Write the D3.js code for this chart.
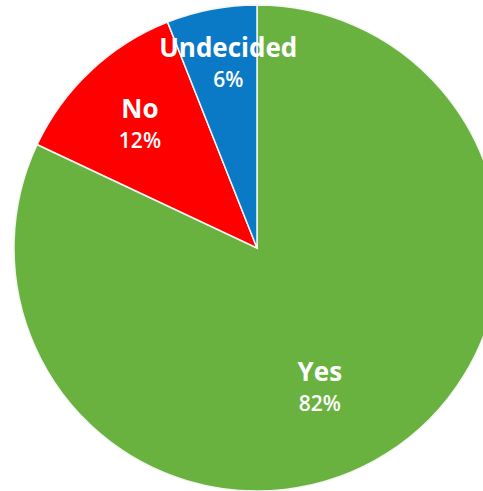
<!DOCTYPE html>
<html lang="en">
<head>
  <meta charset="utf-8">
  <title>Yes / No / Undecided</title>
  <script src="https://d3js.org/d3.v7.min.js"></script>
  <style>
  body { margin: 0; background: #fff; }
  text { font-family: "Open Sans", "DejaVu Sans", sans-serif; fill: #fff; }
  </style>
</head>
<body>
<div id="chart"></div>
<script>
// data, in draw order (clockwise from 12 o'clock)
var answers = ["Yes", "No", "Undecided"];
var shares = [82, 12, 6];
var colors = ["#6ab23f", "#fe0000", "#0b7ac6"];

// where the labels sit: distance from centre and nudge off the slice middle (degrees)
var labelRadius = [152, 171, 188];
var labelNudge = [8, 0, 2];

var width = 483, height = 491;
var cx = 257, cy = 248, radius = 243;

var svg = d3.select("#chart")
  .append("svg")
    .attr("width", width)
    .attr("height", height)
  .append("g")
    .attr("transform", "translate(" + cx + "," + cy + ")");

var data = answers.map(function(a, i) { return {name: a, value: shares[i], color: colors[i], i: i}; });

var pie = d3.pie()
  .sort(null)
  .value(function(d) { return d.value; });

var arc = d3.arc()
  .innerRadius(0)
  .outerRadius(radius);

var arcs = pie(data);

svg.selectAll("path")
  .data(arcs)
  .enter()
  .append("path")
    .attr("d", arc)
    .attr("fill", function(d) { return d.data.color; })
    .attr("stroke", "#f4f4f4")
    .attr("stroke-width", 1.5);

// labels
var labels = svg.selectAll("g.lbl")
  .data(arcs)
  .enter()
  .append("g")
    .attr("class", "lbl")
    .attr("transform", function(d) {
      var a = (d.startAngle + d.endAngle) / 2 + labelNudge[d.data.i] * Math.PI / 180;
      var r = labelRadius[d.data.i];
      return "translate(" + (r * Math.sin(a)) + "," + (-r * Math.cos(a)) + ")";
    });

labels.append("text")
  .attr("text-anchor", "middle")
  .attr("y", -5)
  .style("font-size", "26px")
  .style("font-weight", 700)
  .text(function(d) { return d.data.name; });

labels.append("text")
  .attr("text-anchor", "middle")
  .attr("y", 25)
  .style("font-size", "21px")
  .style("font-weight", 600)
  .text(function(d) { return d.data.value + "%"; });
</script>
</body>
</html>
